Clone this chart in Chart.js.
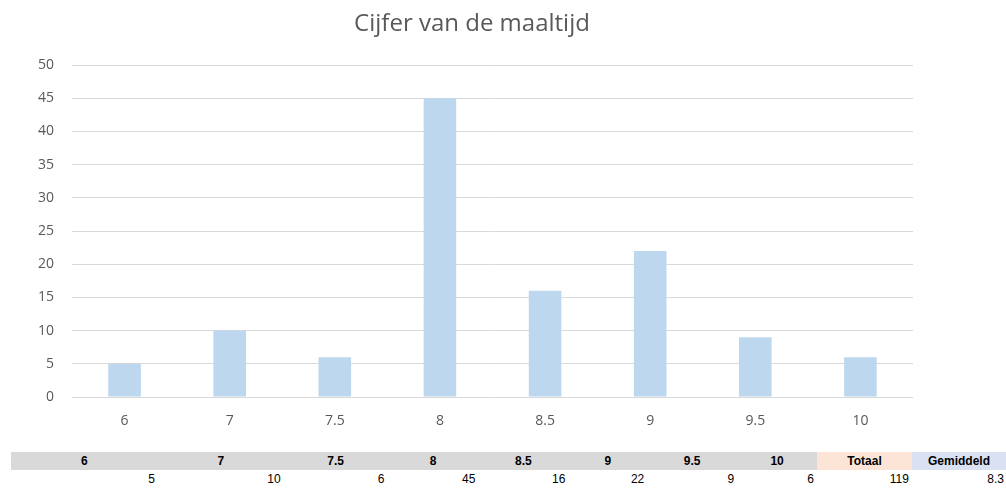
<!DOCTYPE html>
<html>
<head>
<meta charset="utf-8">
<script src="https://cdn.jsdelivr.net/npm/chart.js@4.4.0/dist/chart.umd.min.js"></script>
<style>
  body { margin: 0; background: #fff; width: 1006px; height: 489px; overflow: hidden; position: relative; }
  .wrap { position: absolute; left: 0; top: 0; width: 944px; height: 445px; }
  .title { position: absolute; left: 0; top: 6px; width: 944px; text-align: center; font-family: "Open Sans", sans-serif; font-size: 24px; line-height: 32px; color: #595959; }
  table { position: absolute; left: 10px; top: 452px; border-collapse: collapse; font-family: "Liberation Sans", Arial, sans-serif; font-size: 12px; table-layout: fixed; }
  th, td { padding: 0 2px; height: 18px; }
  th { background: #d9d9d9; font-weight: bold; text-align: center; color: #000; }
  td { text-align: right; border-left: 2px solid #fff; color: #000; }
  th.tot { background: #fce4d6; }
  th.gem { background: #d9e1f2; }
</style>
</head>
<body>
<div class="wrap"><canvas id="canvas"></canvas></div>
<div class="title" id="title"></div>
<table id="tbl"><tr id="hdr"></tr><tr id="vals"></tr></table>
<script>
const chartTitle = 'Cijfer van de maaltijd';
const categories = ['6', '7', '7.5', '8', '8.5', '9', '9.5', '10'];
const counts = [5, 10, 6, 45, 16, 22, 9, 6];
const yTicks = [0, 5, 10, 15, 20, 25, 30, 35, 40, 45, 50];
const totaal = 119;
const gemiddeld = '8.3';
const colWidths = [147, 126, 104, 91, 90, 79, 90, 80, 95, 94];

document.getElementById('title').textContent = chartTitle;

// table under the chart
const hdr = document.getElementById('hdr');
const vals = document.getElementById('vals');
const heads = [...categories, 'Totaal', 'Gemiddeld'];
const cells = [...counts, totaal, gemiddeld];
heads.forEach((h, i) => {
  const th = document.createElement('th');
  th.textContent = h;
  th.style.width = (colWidths[i] - 4) + 'px';
  if (h === 'Totaal') th.className = 'tot';
  if (h === 'Gemiddeld') th.className = 'gem';
  hdr.appendChild(th);
  const td = document.createElement('td');
  td.textContent = cells[i];
  vals.appendChild(td);
});

const tickFont = { family: '"Open Sans", sans-serif', size: 14 };

new Chart(document.getElementById('canvas'), {
  type: 'bar',
  data: {
    labels: categories,
    datasets: [{
      data: counts,
      backgroundColor: '#bdd7ee',
      barPercentage: 0.31,
      categoryPercentage: 1
    }]
  },
  options: {
    responsive: true,
    maintainAspectRatio: false,
    animation: false,
    layout: { padding: { left: 0, right: 31, top: 65, bottom: 0 } },
    plugins: {
      legend: { display: false },
      tooltip: { enabled: false },
      title: { display: false }
    },
    scales: {
      x: {
        grid: { display: false },
        border: { display: false },
        ticks: { color: '#595959', font: tickFont, padding: 8 },
        afterFit: (s) => { s.height = 48; }
      },
      y: {
        min: 0,
        max: 50,
        afterBuildTicks: (s) => { s.ticks = yTicks.map(v => ({ value: v })); },
        grid: { color: '#d9d9d9', drawTicks: false },
        border: { display: false },
        ticks: { color: '#595959', font: tickFont, padding: 18 },
        afterFit: (s) => { s.width = 72; }
      }
    }
  }
});
</script>
</body>
</html>
